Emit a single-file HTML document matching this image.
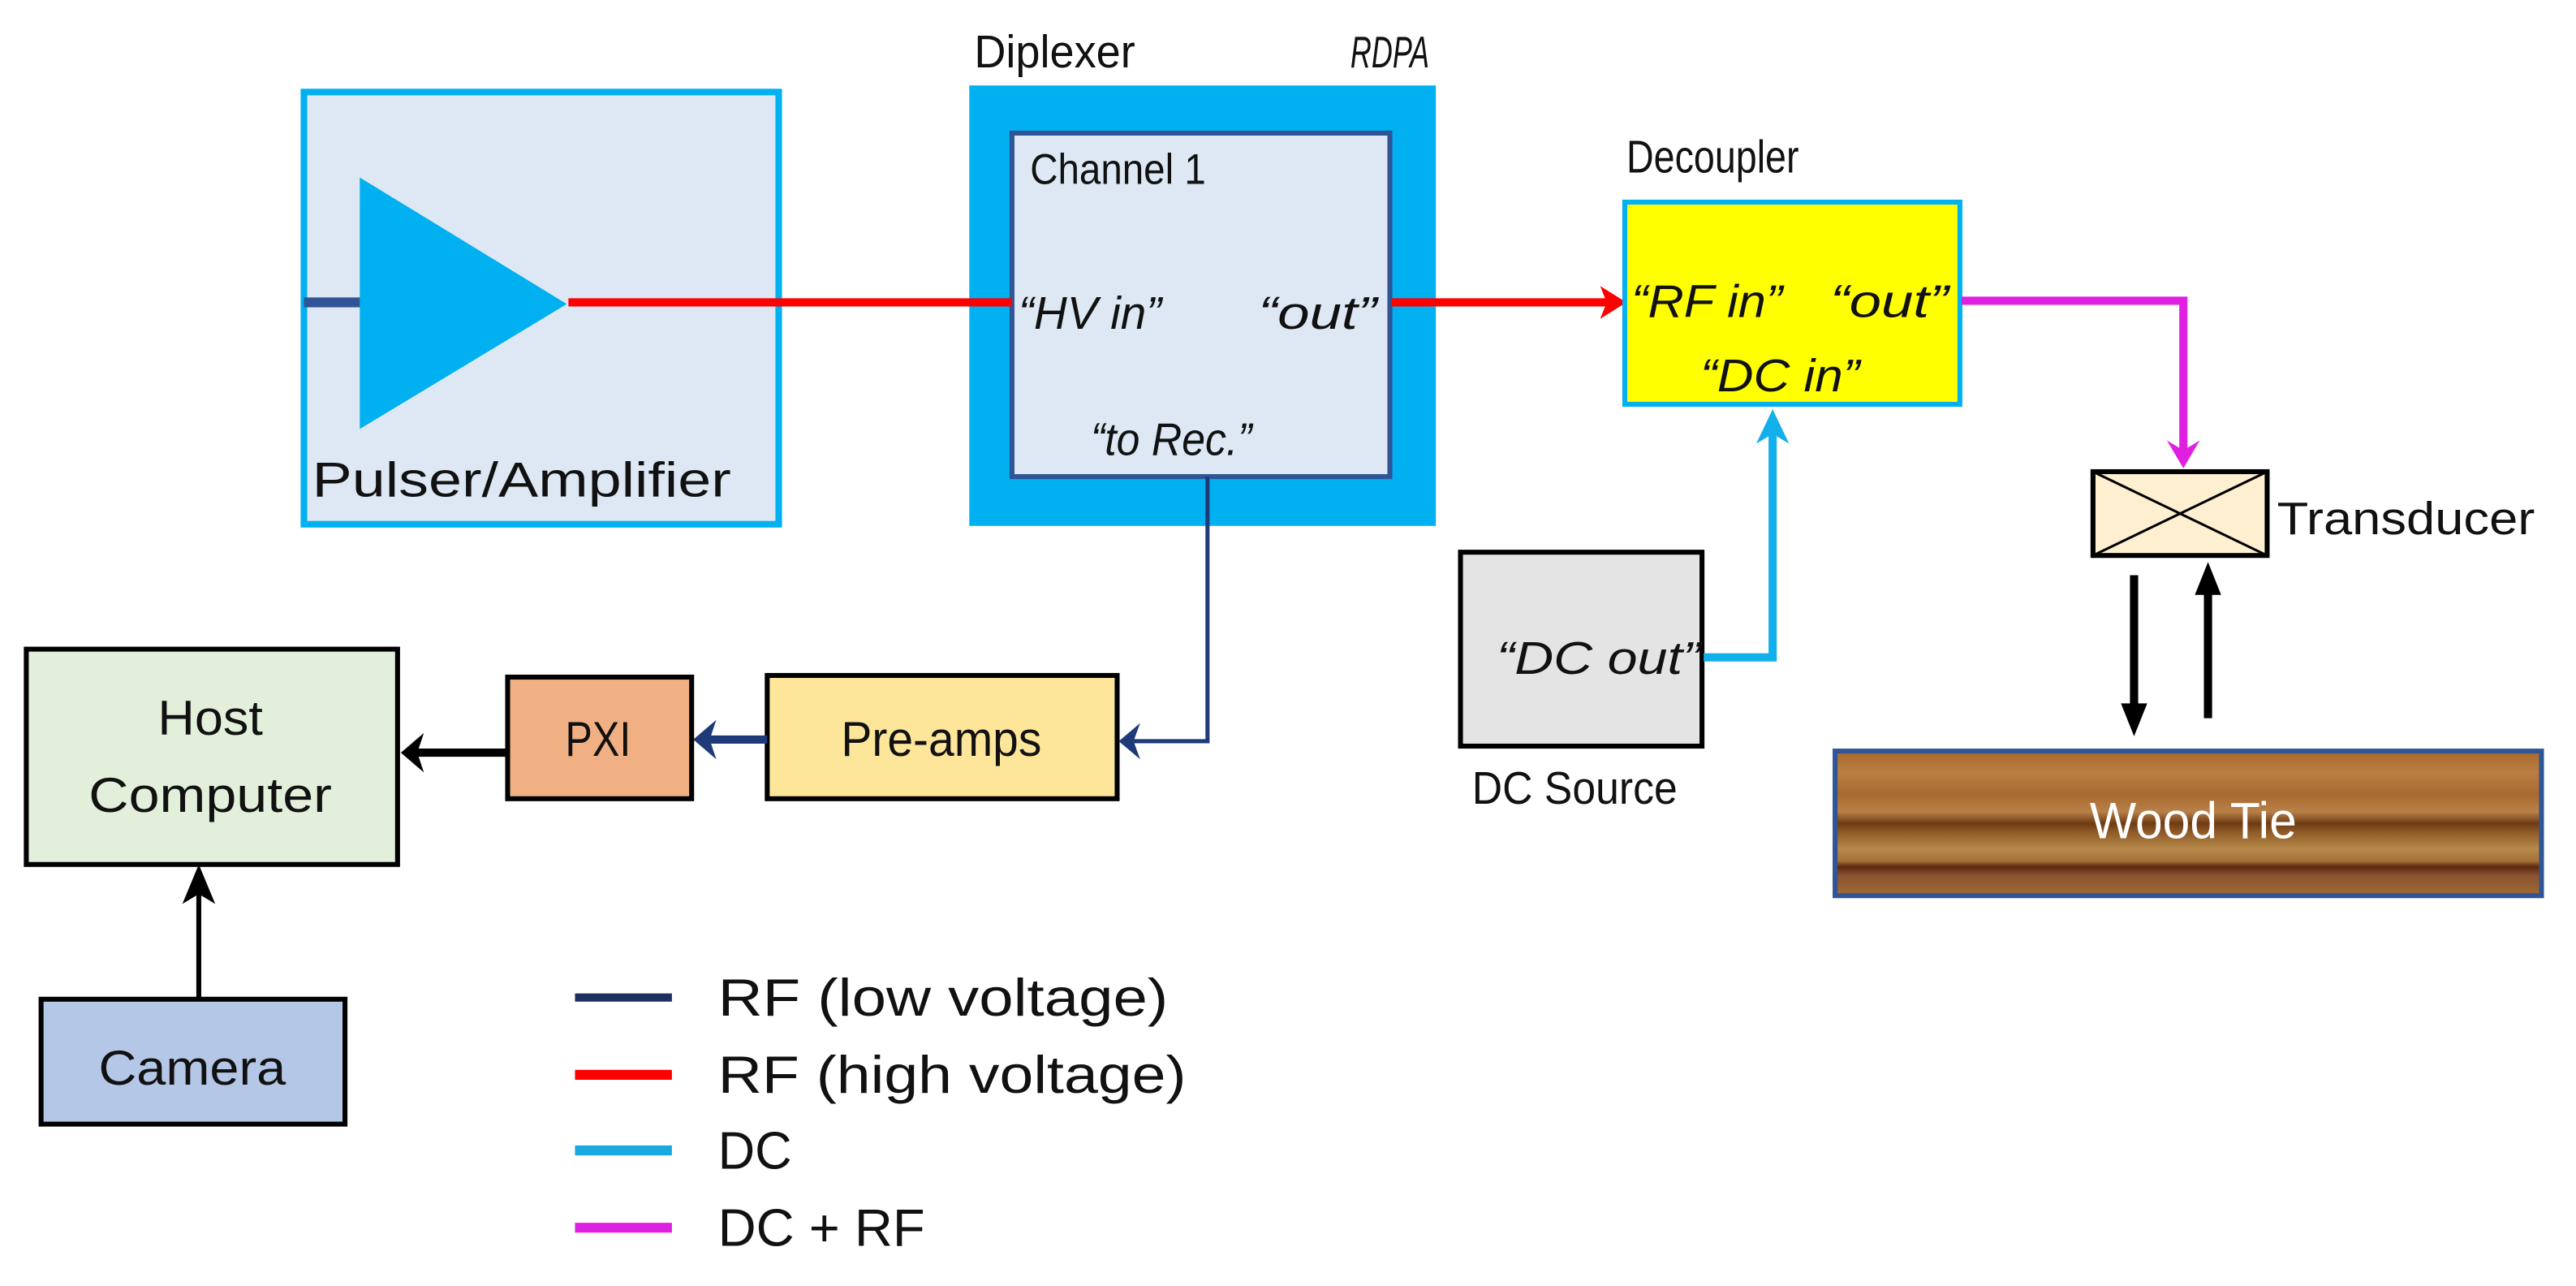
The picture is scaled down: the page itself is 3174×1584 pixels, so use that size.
<!DOCTYPE html>
<html><head><meta charset="utf-8"><style>
html,body{margin:0;padding:0;background:#fff}
svg{display:block}
text{font-family:"Liberation Sans",sans-serif;fill:#111}
.i{font-style:italic}
</style></head><body>
<svg width="3174" height="1584" viewBox="0 0 1568 782.5" preserveAspectRatio="none" xmlns="http://www.w3.org/2000/svg">
<defs>
<linearGradient id="wood" x1="0" y1="0" x2="0" y2="1">
<stop offset="0" stop-color="#a8692c"/>
<stop offset="0.15" stop-color="#b97e42"/>
<stop offset="0.3" stop-color="#a86a30"/>
<stop offset="0.42" stop-color="#b88048"/>
<stop offset="0.5" stop-color="#6e3a12"/>
<stop offset="0.56" stop-color="#8f5a26"/>
<stop offset="0.68" stop-color="#b68a4a"/>
<stop offset="0.76" stop-color="#a57038"/>
<stop offset="0.8" stop-color="#5a2a10"/>
<stop offset="0.86" stop-color="#8a5230"/>
<stop offset="1" stop-color="#a06a34"/>
</linearGradient>
</defs>

<!-- Pulser/Amplifier -->
<rect x="185" y="56" width="289" height="263" fill="#dde8f4" stroke="#00b0f0" stroke-width="4"/>
<line x1="185" y1="184" x2="220" y2="184" stroke="#2f5597" stroke-width="6"/>
<polygon points="219,108 219,261 345,185" fill="#00b0f0"/>
<text x="190" y="302" font-size="30" textLength="255" lengthAdjust="spacingAndGlyphs">Pulser/Amplifier</text>

<!-- Diplexer -->
<text x="593" y="41" font-size="28" textLength="98" lengthAdjust="spacingAndGlyphs">Diplexer</text>
<text x="822" y="41" font-size="27" class="i" textLength="48" lengthAdjust="spacingAndGlyphs">RDPA</text>
<rect x="590" y="52" width="284" height="268" fill="#00b0f0"/>
<rect x="616" y="81" width="230" height="209" fill="#dde8f4" stroke="#2f5597" stroke-width="3"/>
<text x="627" y="112" font-size="26" textLength="107" lengthAdjust="spacingAndGlyphs">Channel 1</text>
<text x="620" y="200" font-size="28" class="i" textLength="87" lengthAdjust="spacingAndGlyphs">“HV in”</text>
<text x="766" y="200" font-size="28" class="i" textLength="72" lengthAdjust="spacingAndGlyphs">“out”</text>
<text x="664" y="277" font-size="28" class="i" textLength="98" lengthAdjust="spacingAndGlyphs">“to Rec.”</text>

<!-- red lines -->
<line x1="346" y1="184" x2="616" y2="184" stroke="#ff0000" stroke-width="5"/>
<line x1="847" y1="184" x2="978" y2="184" stroke="#ff0000" stroke-width="5"/>
<polygon points="974,174 990,184 974,194 978,184" fill="#ff0000"/>

<!-- Decoupler -->
<text x="990" y="105" font-size="28" textLength="105" lengthAdjust="spacingAndGlyphs">Decoupler</text>
<rect x="989" y="123" width="204" height="123" fill="#ffff00" stroke="#00b0f0" stroke-width="3"/>
<text x="993" y="193" font-size="28" class="i" textLength="92" lengthAdjust="spacingAndGlyphs">“RF in”</text>
<text x="1114" y="193" font-size="28" class="i" textLength="72" lengthAdjust="spacingAndGlyphs">“out”</text>
<text x="1035" y="238" font-size="28" class="i" textLength="97" lengthAdjust="spacingAndGlyphs">“DC in”</text>

<!-- magenta -->
<polyline points="1194,183 1329,183 1329,275" fill="none" stroke="#e020e0" stroke-width="5"/>
<polygon points="1319,268 1329,285 1339,268 1329,274" fill="#e020e0"/>

<!-- Transducer -->
<rect x="1274" y="287" width="106" height="51" fill="#fdefd0" stroke="#000" stroke-width="3"/>
<line x1="1274" y1="287" x2="1380" y2="338" stroke="#000" stroke-width="1.5"/>
<line x1="1380" y1="287" x2="1274" y2="338" stroke="#000" stroke-width="1.5"/>
<text x="1386" y="325" font-size="28" textLength="157" lengthAdjust="spacingAndGlyphs">Transducer</text>

<!-- tx/rx arrows -->
<line x1="1299" y1="350" x2="1299" y2="430" stroke="#000" stroke-width="5"/>
<polygon points="1291,428 1307,428 1299,448" fill="#000"/>
<line x1="1344" y1="437" x2="1344" y2="360" stroke="#000" stroke-width="5"/>
<polygon points="1336,362 1352,362 1344,342" fill="#000"/>

<!-- Wood tie -->
<rect x="1117" y="457" width="430" height="88" fill="url(#wood)" stroke="#2f5597" stroke-width="3"/>
<text x="1335" y="510" font-size="31" text-anchor="middle" style="fill:#fff" textLength="126" lengthAdjust="spacingAndGlyphs">Wood Tie</text>

<!-- DC Source -->
<rect x="889" y="336" width="147" height="118" fill="#e4e4e4" stroke="#000" stroke-width="3"/>
<text x="911" y="410" font-size="28" class="i" textLength="124" lengthAdjust="spacingAndGlyphs">“DC out”</text>
<text x="896" y="489" font-size="28" textLength="125" lengthAdjust="spacingAndGlyphs">DC Source</text>
<polyline points="1037,400 1079,400 1079,260" fill="none" stroke="#12b0ea" stroke-width="5"/>
<polygon points="1069,270 1079,249 1089,270 1079,264" fill="#12b0ea"/>

<!-- dark blue to preamps -->
<polyline points="735,290 735,451 690,451" fill="none" stroke="#1f3a78" stroke-width="2.5"/>
<polygon points="681,451 694,440 690,451 694,462" fill="#1f3a78"/>

<!-- Pre-amps -->
<rect x="467" y="411" width="213" height="75" fill="#fde59a" stroke="#000" stroke-width="3"/>
<text x="573" y="460" font-size="30" text-anchor="middle" textLength="122" lengthAdjust="spacingAndGlyphs">Pre-amps</text>
<line x1="467" y1="450" x2="432" y2="450" stroke="#1f3a78" stroke-width="5"/>
<polygon points="422,450 436,438 432,450 436,462" fill="#1f3a78"/>

<!-- PXI -->
<rect x="309" y="412" width="112" height="74" fill="#f0b083" stroke="#000" stroke-width="3"/>
<text x="364" y="460" font-size="30" text-anchor="middle" textLength="40" lengthAdjust="spacingAndGlyphs">PXI</text>
<line x1="309" y1="458" x2="253" y2="458" stroke="#000" stroke-width="5"/>
<polygon points="244,458 258,446 254,458 258,470" fill="#000"/>

<!-- Host Computer -->
<rect x="16" y="395" width="226" height="131" fill="#e2efda" stroke="#000" stroke-width="3"/>
<text x="128" y="447" font-size="30" text-anchor="middle" textLength="64" lengthAdjust="spacingAndGlyphs">Host</text>
<text x="128" y="494" font-size="30" text-anchor="middle" textLength="148" lengthAdjust="spacingAndGlyphs">Computer</text>

<!-- Camera -->
<rect x="25" y="608" width="185" height="76" fill="#b4c7e7" stroke="#000" stroke-width="3"/>
<text x="117" y="660" font-size="30" text-anchor="middle" textLength="114" lengthAdjust="spacingAndGlyphs">Camera</text>
<line x1="121" y1="608" x2="121" y2="540" stroke="#000" stroke-width="3"/>
<polygon points="111,550 121,526 131,550 121,544" fill="#000"/>

<!-- Legend -->
<line x1="350" y1="607" x2="409" y2="607" stroke="#1f3060" stroke-width="5"/>
<line x1="350" y1="654" x2="409" y2="654" stroke="#ff0000" stroke-width="6"/>
<line x1="350" y1="700" x2="409" y2="700" stroke="#19a8e0" stroke-width="6"/>
<line x1="350" y1="747" x2="409" y2="747" stroke="#e020e0" stroke-width="6"/>
<text x="437" y="618" font-size="32" textLength="274" lengthAdjust="spacingAndGlyphs">RF (low voltage)</text>
<text x="437" y="665" font-size="32" textLength="285" lengthAdjust="spacingAndGlyphs">RF (high voltage)</text>
<text x="437" y="711" font-size="32" textLength="45" lengthAdjust="spacingAndGlyphs">DC</text>
<text x="437" y="758" font-size="32" textLength="126" lengthAdjust="spacingAndGlyphs">DC + RF</text>
</svg>
</body></html>
